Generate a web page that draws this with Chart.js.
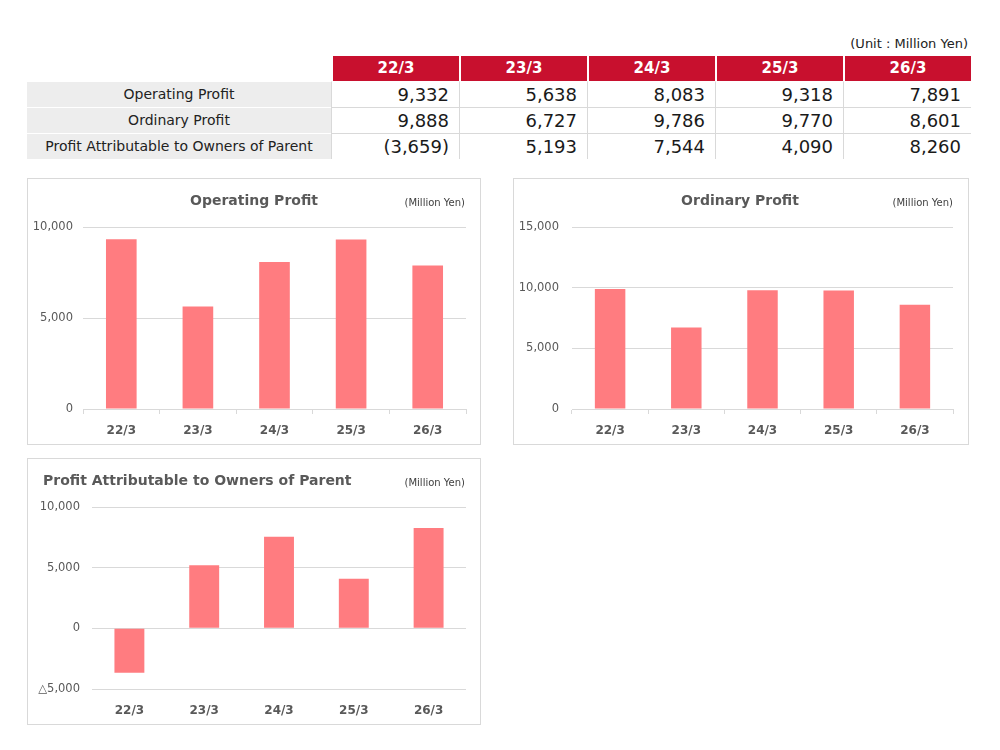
<!DOCTYPE html>
<html>
<head>
<meta charset="utf-8">
<script src="https://cdn.jsdelivr.net/npm/chart.js@4"></script>
<style>
  body { margin: 0; width: 1000px; height: 750px; background: #fff; position: relative; font-family: "DejaVu Sans", sans-serif; }
  #unit { position: absolute; right: 32px; top: 36px; font-size: 13px; color: #222; }
  #tbl { position: absolute; left: 27px; top: 56px; border-collapse: separate; border-spacing: 0; table-layout: fixed; width: 944px; }
  #tbl th, #tbl td { padding: 0; line-height: 25px; height: 25px; white-space: nowrap; overflow: hidden; }
  #tbl th.hdr { background: #c8102e; color: #fff; font-size: 15px; font-weight: bold; border-left: 2px solid #fff; }
  #tbl td.lbl { background: #ededed; text-align: center; font-size: 14px; color: #222; border-top: 1px solid #fff; }
  #tbl td.val { text-align: right; padding-right: 10px; font-size: 18px; color: #1a1a1a; border-top: 1px solid #d9d9d9; border-left: 1px solid #d9d9d9; }
  #tbl tr.first td { border-top-color: #fff; }
  .panel { position: absolute; border: 1px solid #d9d9d9; background: #fff; }
  .panel canvas { position: absolute; left: 0; top: 0; }
  .ttl { position: absolute; font-size: 14px; font-weight: bold; color: #595959; line-height: 18px; white-space: nowrap; }
  .unit { position: absolute; font-size: 10px; color: #404040; line-height: 12px; white-space: nowrap; }
</style>
</head>
<body>
<div id="unit">(Unit : Million Yen)</div>
<table id="tbl"></table>

<div class="panel" style="left:27px; top:178px; width:452px; height:265px;">
  <canvas id="c1" width="452" height="265"></canvas>
  <div class="ttl" style="left:126px; width:200px; text-align:center; top:12px;">Operating Profit</div>
  <div class="unit" style="right:15px; top:18px;">(Million Yen)</div>
</div>
<div class="panel" style="left:513px; top:178px; width:454px; height:265px;">
  <canvas id="c2" width="454" height="265"></canvas>
  <div class="ttl" style="left:126px; width:200px; text-align:center; top:12px;">Ordinary Profit</div>
  <div class="unit" style="right:15px; top:18px;">(Million Yen)</div>
</div>
<div class="panel" style="left:27px; top:458px; width:452px; height:265px;">
  <canvas id="c3" width="452" height="265"></canvas>
  <div class="ttl" style="left:15px; top:12px;">Profit Attributable to Owners of Parent</div>
  <div class="unit" style="right:15px; top:18px;">(Million Yen)</div>
</div>

<script>
// data
const years = ['22/3', '23/3', '24/3', '25/3', '26/3'];
const rowNames = ['Operating Profit', 'Ordinary Profit', 'Profit Attributable to Owners of Parent'];
const operatingProfit = [9332, 5638, 8083, 9318, 7891];
const ordinaryProfit = [9888, 6727, 9786, 9770, 8601];
const ownersProfit = [-3659, 5193, 7544, 4090, 8260];

const barColor = '#ff7c80';
const gridColor = '#d9d9d9';
const textColor = '#595959';

// table
function tableNum(v) {
    const s = Math.abs(v).toLocaleString('en-US');
    return v < 0 ? '(' + s + ')' : s;
}

const tbl = document.getElementById('tbl');
let html = '<colgroup><col style="width:304px">' + years.map(() => '<col style="width:128px">').join('') + '</colgroup>';
html += '<tr><th></th>' + years.map(y => `<th class="hdr">${y}</th>`).join('') + '</tr>';
[operatingProfit, ordinaryProfit, ownersProfit].forEach((row, i) => {
    html += `<tr class="${i === 0 ? 'first' : ''}"><td class="lbl">${rowNames[i]}</td>` +
        row.map(v => `<td class="val">${tableNum(v)}</td>`).join('') + '</tr>';
});
tbl.innerHTML = html;

// charts
function tickLabel(v) {
    const s = Math.abs(v).toLocaleString('en-US');
    return v < 0 ? '△' + s : s;
}

function makeChart(id, values, opts) {
    new Chart(document.getElementById(id), {
        type: 'bar',
        data: {
            labels: years,
            datasets: [{
                data: values,
                backgroundColor: barColor,
                categoryPercentage: 1,
                barPercentage: 0.4
            }]
        },
        options: {
            responsive: false,
            animation: false,
            layout: { padding: { top: 48, right: opts.right, left: 0, bottom: 0 } },
            plugins: { legend: { display: false }, tooltip: { enabled: false } },
            scales: {
                x: {
                    afterFit: s => { s.height = 35; },
                    border: { display: opts.axisTicks, color: gridColor },
                    grid: {
                        offset: true,
                        drawOnChartArea: false,
                        drawTicks: opts.axisTicks,
                        tickLength: 5,
                        color: gridColor
                    },
                    ticks: {
                        color: textColor,
                        padding: opts.axisTicks ? 10 : 15,
                        font: { family: 'DejaVu Sans', size: 12, weight: 'bold' }
                    }
                },
                y: {
                    min: opts.min,
                    max: opts.max,
                    afterFit: s => { s.width = opts.left; },
                    border: { display: false },
                    grid: { color: gridColor, drawTicks: false },
                    ticks: {
                        stepSize: 5000,
                        padding: opts.pad,
                        color: textColor,
                        font: { family: 'DejaVu Sans', size: 11.5 },
                        callback: v => tickLabel(v)
                    }
                }
            }
        }
    });
}

makeChart('c1', operatingProfit, { min: 0, max: 10000, left: 55, right: 14, pad: 10, axisTicks: true });
makeChart('c2', ordinaryProfit, { min: 0, max: 15000, left: 58, right: 15, pad: 13, axisTicks: true });
makeChart('c3', ownersProfit, { min: -5000, max: 10000, left: 64, right: 14, pad: 12, axisTicks: false });
</script>
</body>
</html>
